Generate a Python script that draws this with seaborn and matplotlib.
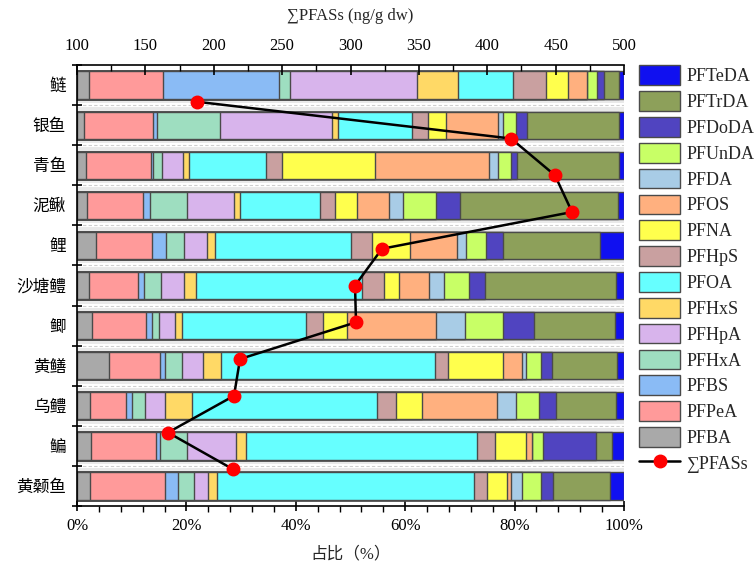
import matplotlib
matplotlib.use("Agg")
import matplotlib.pyplot as plt
from matplotlib.patches import Patch
from matplotlib.lines import Line2D
from matplotlib.ticker import MultipleLocator, FuncFormatter
import seaborn as sns
import pandas as pd

# fish species, top to bottom
fish = ["鲢", "银鱼", "青鱼", "泥鳅", "鲤", "沙塘鳢", "鲫", "黄鳝", "乌鳢", "鳊", "黄颡鱼"]

# share of each compound per species (%)
PFBA = [2.2, 1.3, 1.6, 1.8, 3.4, 2.1, 2.8, 5.9, 2.4, 2.6, 2.3]
PFPeA = [13.6, 12.6, 11.9, 10.2, 10.3, 9.1, 9.8, 9.3, 6.6, 11.8, 13.8]
PFBS = [21.1, 0.7, 0.4, 1.3, 2.6, 1.0, 1.1, 0.9, 1.1, 0.8, 2.4]
PFHxA = [2.0, 11.6, 1.6, 6.9, 3.3, 3.1, 1.3, 3.0, 2.4, 4.9, 2.8]
PFHpA = [23.2, 20.3, 3.8, 8.6, 4.1, 4.2, 3.0, 4.0, 3.5, 9.0, 2.7]
PFHxS = [7.5, 1.2, 1.2, 1.0, 1.5, 2.2, 1.2, 3.2, 5.1, 1.7, 1.5]
PFOA = [10.1, 13.5, 14.1, 14.6, 24.9, 30.4, 22.6, 39.1, 33.7, 42.3, 47.0]
PFHpS = [6.1, 2.9, 2.9, 2.9, 3.8, 4.1, 3.2, 2.5, 3.5, 3.4, 2.4]
PFNA = [4.0, 3.3, 17.0, 4.0, 7.0, 2.7, 4.3, 9.9, 4.8, 5.5, 3.8]
PFOS = [3.4, 9.5, 20.8, 5.8, 8.6, 5.6, 16.3, 3.5, 13.6, 1.1, 0.7]
PFDA = [0.0, 0.9, 1.7, 2.5, 1.6, 2.7, 5.4, 0.7, 3.6, 0.0, 2.0]
PFUnDA = [1.9, 2.3, 2.4, 6.1, 3.6, 4.6, 6.8, 2.9, 4.2, 2.1, 3.5]
PFDoDA = [1.2, 2.1, 1.0, 4.4, 3.1, 2.8, 5.7, 1.9, 3.1, 9.7, 2.2]
PFTrDA = [2.7, 16.7, 18.7, 28.9, 17.9, 24.0, 14.8, 11.9, 10.9, 2.9, 10.4]
PFTeDA = [1.0, 1.0, 0.9, 1.1, 4.3, 1.5, 1.7, 1.3, 1.5, 2.2, 2.5]

# total PFASs, ng/g dw
total_pfas = [187.8, 417.4, 449.5, 462.0, 323.0, 303.3, 304.0, 219.2, 214.8, 166.5, 214.1]

compounds = ["PFBA", "PFPeA", "PFBS", "PFHxA", "PFHpA", "PFHxS", "PFOA", "PFHpS",
             "PFNA", "PFOS", "PFDA", "PFUnDA", "PFDoDA", "PFTrDA", "PFTeDA"]
colors = {
    "PFBA": "#a9a9a9", "PFPeA": "#ff9a9a", "PFBS": "#8abbf5", "PFHxA": "#9edec0",
    "PFHpA": "#d8b4ec", "PFHxS": "#ffd966", "PFOA": "#66ffff", "PFHpS": "#c9a0a0",
    "PFNA": "#ffff4d", "PFOS": "#ffb07f", "PFDA": "#a8cce6", "PFUnDA": "#c8ff66",
    "PFDoDA": "#5044c0", "PFTrDA": "#8da05a", "PFTeDA": "#1010f0",
}

df = pd.DataFrame({"PFBA": PFBA, "PFPeA": PFPeA, "PFBS": PFBS, "PFHxA": PFHxA,
                   "PFHpA": PFHpA, "PFHxS": PFHxS, "PFOA": PFOA, "PFHpS": PFHpS,
                   "PFNA": PFNA, "PFOS": PFOS, "PFDA": PFDA, "PFUnDA": PFUnDA,
                   "PFDoDA": PFDoDA, "PFTrDA": PFTrDA, "PFTeDA": PFTeDA})
df = df.div(df.sum(axis=1), axis=0) * 100
cum = df.cumsum(axis=1)
cum["fish"] = fish

sns.set_theme(style="ticks")
plt.rcParams["font.family"] = ["Liberation Serif", "Noto Sans CJK SC", "DejaVu Sans"]
plt.rcParams["axes.unicode_minus"] = False

fig = plt.figure(figsize=(7.56, 5.63), dpi=100)
ax = fig.add_axes([0.1019, 0.1012, 0.7235, 0.7833])

# gaps between bars
for i in range(len(fish) - 1):
    ax.axhspan(i + 0.34, i + 0.66, color="#e9e9e9", lw=0, zorder=0)
    ax.axhspan(i + 0.45, i + 0.55, color="white", lw=0, zorder=0)
    ax.axhline(i + 0.5, color="#cfcfcf", ls=(0, (3, 2)), lw=0.8, zorder=0)

# stacked bars: draw cumulative totals from the longest down
for comp in reversed(compounds):
    sns.barplot(data=cum, x=comp, y="fish", orient="h", color=colors[comp],
                saturation=1, width=0.68, edgecolor="#4a4a4a", linewidth=1.0,
                errorbar=None, ax=ax)

ax.set_xlim(0, 100)
ax.set_ylim(len(fish) - 0.5, -0.5)
ax.set_xlabel("占比（%）", fontsize=12, labelpad=9)
ax.set_ylabel("")
ax.xaxis.set_major_locator(MultipleLocator(20))
ax.xaxis.set_minor_locator(MultipleLocator(4))
ax.xaxis.set_major_formatter(FuncFormatter(lambda v, p: f"{v:.0f}%"))
ax.set_yticks(range(len(fish)))
ax.set_yticklabels(fish)
ax.set_yticks([i - 0.5 for i in range(len(fish) + 1)], minor=True)
ax.tick_params(axis="y", which="major", length=0, labelsize=12, pad=8, colors="black")
ax.tick_params(axis="y", which="minor", length=7, direction="inout", width=1.2, color="black")
ax.tick_params(axis="x", which="major", length=7, direction="inout", width=1.2,
               labelsize=12, colors="black", pad=5)
ax.tick_params(axis="x", which="minor", length=4, direction="out", width=1.0, color="black")
ax.spines["right"].set_visible(False)
for s in ["left", "bottom", "top"]:
    ax.spines[s].set_color("black")
    ax.spines[s].set_linewidth(1.2)

# total concentration line on its own scale (top axis)
ax2 = fig.add_axes(ax.get_position(), frameon=False)
ax2.plot(total_pfas, range(len(fish)), color="black", lw=1.8, marker="o",
         markersize=9, markerfacecolor="red", markeredgecolor="red", zorder=5)
ax2.set_xlim(100, 500)
ax2.set_ylim(len(fish), -1)
ax2.xaxis.set_ticks_position("top")
ax2.xaxis.set_label_position("top")
ax2.xaxis.set_major_locator(MultipleLocator(50))
ax2.xaxis.set_minor_locator(MultipleLocator(25))
ax2.tick_params(axis="x", which="major", direction="in", length=7, width=1.2,
                labelsize=12, colors="black", pad=8)
ax2.tick_params(axis="x", which="minor", direction="in", length=4, width=1.0, color="black")
ax2.set_yticks([])
ax2.set_xlabel("∑PFASs (ng/g dw)", fontsize=12, labelpad=13)

handles = [Patch(facecolor=colors[c], edgecolor="#4a4a4a", linewidth=1.0, label=c)
           for c in reversed(compounds)]
handles.append(Line2D([], [], color="black", lw=1.8, marker="o", markersize=9,
                      markerfacecolor="red", markeredgecolor="red", label="∑PFASs"))
fig.legend(handles=handles, loc="upper left", bbox_to_anchor=(0.845, 0.884),
           frameon=False, fontsize=13, handlelength=2.3, handleheight=1.3,
           labelspacing=0.33, handletextpad=0.35, borderpad=0, borderaxespad=0)

fig.savefig("out.png", dpi=100)
